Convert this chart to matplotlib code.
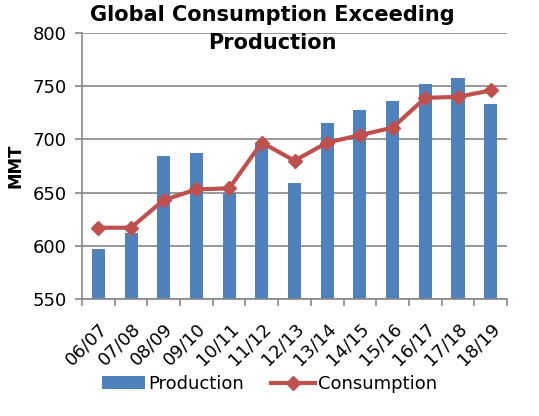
import matplotlib
matplotlib.use("Agg")
import matplotlib.pyplot as plt
import numpy as np

plt.rcParams['font.family'] = ['DejaVu Sans']

seasons = ["06/07", "07/08", "08/09", "09/10", "10/11", "11/12", "12/13",
           "13/14", "14/15", "15/16", "16/17", "17/18", "18/19"]
production = [597, 612, 684, 687, 650, 696, 659, 715, 728, 736, 752, 758, 733]
consumption = [617, 617, 643, 653, 654, 697, 680, 697, 704, 711, 739, 740, 746]

fig = plt.figure(figsize=(5.39, 4.16), dpi=100)
ax = fig.add_axes([82 / 539, 1 - 299 / 416, 425 / 539, 266 / 416])

x = np.arange(len(seasons))
bars = ax.bar(x, production, width=0.4, color="#4f81bd", label="Production", zorder=2)
line, = ax.plot(x, consumption, color="#c0504d", linewidth=3, marker="D", markersize=7,
                label="Consumption", zorder=3)

ax.set_xlim(-0.5, len(seasons) - 0.5)
ax.set_ylim(550, 800)
ax.set_yticks(range(550, 801, 50))
ax.yaxis.grid(True, color="#888888", linewidth=1.2, zorder=0)
ax.set_axisbelow(True)

ax.set_xticks(x)
ax.set_xticklabels(seasons, rotation=45, ha="right", rotation_mode="anchor", fontsize=13)
ax.tick_params(axis="x", length=0, pad=15)
ax.set_xticks(np.arange(-0.5, len(seasons)), minor=True)
ax.tick_params(axis="x", which="minor", length=5, color="#888888", width=1.2)
ax.tick_params(axis="y", labelsize=13, length=5, color="#888888", width=1.2, pad=6)

for side in ["top", "right"]:
    ax.spines[side].set_visible(False)
for side in ["left", "bottom"]:
    ax.spines[side].set_color("#888888")
    ax.spines[side].set_linewidth(1.2)

ax.set_ylabel("MMT", fontsize=12, fontweight="bold", labelpad=6)
fig.text(0.505, 1 - 15 / 416, "Global Consumption Exceeding", fontsize=15,
         fontweight="bold", ha="center", va="center")
fig.text(0.505, 1 - 43 / 416, "Production", fontsize=15,
         fontweight="bold", ha="center", va="center")

fig.legend([bars, line], ["Production", "Consumption"], loc="center",
           bbox_to_anchor=(0.5, 1 - 384 / 416), ncol=2, frameon=False,
           fontsize=13, handlelength=2.4, columnspacing=1.5, handletextpad=0.2)

fig.savefig("out.png", dpi=100)
